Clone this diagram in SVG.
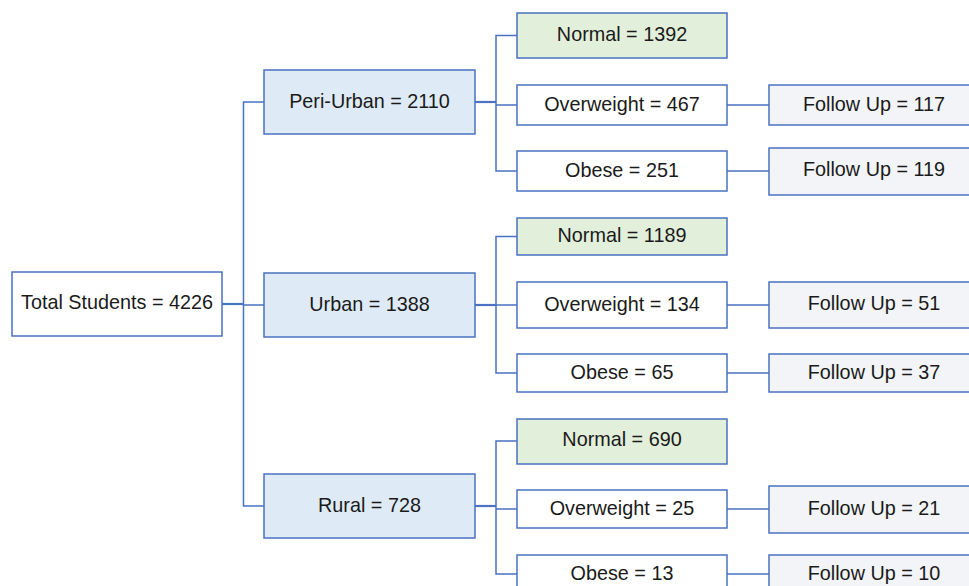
<svg xmlns="http://www.w3.org/2000/svg" width="969" height="586" viewBox="0 0 969 586">
<style>
rect{stroke:#4a72c0;stroke-width:1.5}
.w{fill:#ffffff}.b{fill:#deebf7}.g{fill:#e2efda}.f{fill:#f2f4f7}
text{font-family:"Liberation Sans",Arial,sans-serif;font-size:19.8px;fill:#1a1a1a;text-anchor:middle;dominant-baseline:central}
#connectors path{fill:none;stroke:#4a72c0;stroke-width:1.5}
#connectors .t{stroke-width:2.2}
</style>
<rect x="0" y="0" width="969" height="586" fill="#ffffff" style="stroke:none"/>
<g id="connectors">
<path class="t" d="M222 304H243.5"/>
<path d="M264 102H243.5V506H264M243.5 305H264"/>
<path class="t" d="M475 102H496"/>
<path d="M517 35.5H496V171H517M496 105H517M727 105H769M727 171H769"/>
<path class="t" d="M475 305H496"/>
<path d="M517 236.5H496V373H517M496 305H517M727 305H769M727 373H769"/>
<path class="t" d="M475 506H496"/>
<path d="M517 441H496V574H517M496 509H517M727 509H769M727 574H769"/>
</g>
<g id="total"><rect class="w" x="12" y="272" width="210" height="64"/><text x="117" y="302">Total Students = 4226</text></g>
<g id="periurban"><rect class="b" x="264" y="70" width="211" height="64"/><text x="369.5" y="101">Peri-Urban = 2110</text></g>
<g id="urban"><rect class="b" x="264" y="273" width="211" height="64"/><text x="369.5" y="304">Urban = 1388</text></g>
<g id="rural"><rect class="b" x="264" y="474" width="211" height="64"/><text x="369.5" y="505">Rural = 728</text></g>
<g id="pu-normal"><rect class="g" x="517" y="13" width="210" height="45"/><text x="622" y="34">Normal = 1392</text></g>
<g id="pu-over"><rect class="w" x="517" y="85" width="210" height="40"/><text x="622" y="103.5">Overweight = 467</text></g>
<g id="pu-obese"><rect class="w" x="517" y="151" width="210" height="40"/><text x="622" y="170">Obese = 251</text></g>
<g id="pu-over-fu"><rect class="f" x="769" y="85" width="210" height="40"/><text x="874" y="103.5">Follow Up = 117</text></g>
<g id="pu-obese-fu"><rect class="f" x="769" y="148" width="210" height="47"/><text x="874" y="169">Follow Up = 119</text></g>
<g id="u-normal"><rect class="g" x="517" y="218" width="210" height="37"/><text x="622" y="235">Normal = 1189</text></g>
<g id="u-over"><rect class="w" x="517" y="282" width="210" height="46"/><text x="622" y="303.5">Overweight = 134</text></g>
<g id="u-obese"><rect class="w" x="517" y="354" width="210" height="38"/><text x="622" y="371.5">Obese = 65</text></g>
<g id="u-over-fu"><rect class="f" x="769" y="282" width="210" height="46"/><text x="874" y="302.5">Follow Up = 51</text></g>
<g id="u-obese-fu"><rect class="f" x="769" y="354" width="210" height="38"/><text x="874" y="371.5">Follow Up = 37</text></g>
<g id="r-normal"><rect class="g" x="517" y="419" width="210" height="45"/><text x="622" y="439">Normal = 690</text></g>
<g id="r-over"><rect class="w" x="517" y="490" width="210" height="38"/><text x="622" y="507.5">Overweight = 25</text></g>
<g id="r-obese"><rect class="w" x="517" y="555" width="210" height="45"/><text x="622" y="572.5">Obese = 13</text></g>
<g id="r-over-fu"><rect class="f" x="769" y="486" width="210" height="47"/><text x="874" y="507.5">Follow Up = 21</text></g>
<g id="r-obese-fu"><rect class="f" x="769" y="555" width="210" height="45"/><text x="874" y="572.5">Follow Up = 10</text></g>
</svg>
